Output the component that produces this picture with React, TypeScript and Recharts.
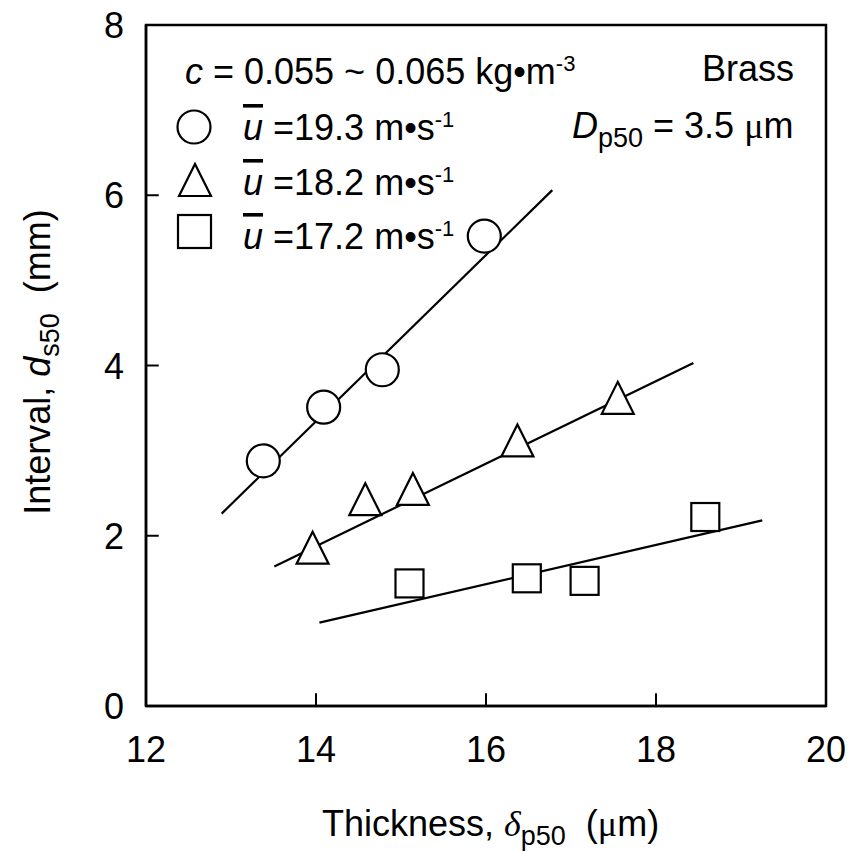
import React from "react"
import { ScatterChart, Scatter, XAxis, YAxis, ReferenceArea, ReferenceLine, Customized } from "recharts"

const circleX = [13.38, 14.09, 14.78, 15.98]
const circleY = [2.88, 3.51, 3.95, 5.52]
const triangleX = [13.96, 14.58, 15.14, 16.37, 17.55]
const triangleY = [1.86, 2.43, 2.55, 3.12, 3.62]
const squareX = [15.1, 16.48, 17.16, 18.58]
const squareY = [1.44, 1.5, 1.47, 2.22]

// fitted straight lines (end points)
const circleFitX = [12.89, 16.78]
const circleFitY = [2.26, 6.06]
const triangleFitX = [13.51, 18.44]
const triangleFitY = [1.64, 4.03]
const squareFitX = [14.04, 19.25]
const squareFitY = [0.98, 2.18]

const xTicks = [12, 14, 16, 18, 20]
const yTicks = [0, 2, 4, 6, 8]

const FONT = "'Liberation Sans', Arial, sans-serif"
const SERIF = "'Liberation Serif', 'Times New Roman', serif"

// inward tick length, in axis units (~13px)
const X_TICK_LEN = 0.15
const Y_TICK_LEN = 0.15

const toPoints = (xs: number[], ys: number[]) => xs.map((x, i) => ({ x, y: ys[i] }))

const CircleMark = (props: any) => {
	const { cx, cy } = props
	return <circle cx={cx} cy={cy} r={16.5} fill="#fff" stroke="#000" strokeWidth={2.2} />
}

const TriangleMark = (props: any) => {
	const { cx, cy } = props
	const w = 32
	const h = 32
	return (
		<polygon
			points={`${cx},${cy - h / 2} ${cx + w / 2},${cy + h / 2} ${cx - w / 2},${cy + h / 2}`}
			fill="#fff"
			stroke="#000"
			strokeWidth={2.2}
		/>
	)
}

const SquareMark = (props: any) => {
	const { cx, cy } = props
	const s = 28
	return <rect x={cx - s / 2} y={cy - s / 2} width={s} height={s} fill="#fff" stroke="#000" strokeWidth={2.2} />
}

const NoMark = () => <g />

const XTick = (props: any) => {
	const { x, y, payload } = props
	return (
		<text x={x} y={y + 56} textAnchor="middle" fontSize={36} fontFamily={FONT} fill="#000">
			{payload.value}
		</text>
	)
}

const YTick = (props: any) => {
	const { x, y, payload } = props
	return (
		<text x={x - 22} y={y + 13} textAnchor="end" fontSize={36} fontFamily={FONT} fill="#000">
			{payload.value}
		</text>
	)
}

const Annotations = () => {
	const t = { fontFamily: FONT, fontSize: 36, fill: "#000" }
	const sup = { fontSize: 22 }
	const sub = { fontSize: 27 }
	const speedRow = (label: string, baseline: number) => (
		<text x={243} y={baseline} {...t}>
			<tspan fontStyle="italic" style={{ textDecoration: "overline" }}>
				u
			</tspan>
			<tspan> ={label} m•s</tspan>
			<tspan {...sup} dy={-13}>
				-1
			</tspan>
		</text>
	)
	return (
		<g>
			{/* condition text */}
			<text x={185} y={84} {...t}>
				<tspan fontStyle="italic">c</tspan>
				<tspan> = 0.055 ~ 0.065 kg•m</tspan>
				<tspan {...sup} dy={-13}>
					-3
				</tspan>
			</text>
			<text x={794} y={81} textAnchor="end" {...t}>
				Brass
			</text>
			<text x={572} y={138} {...t}>
				<tspan fontStyle="italic">D</tspan>
				<tspan {...sub} dy={9}>
					p50
				</tspan>
				<tspan dy={-9}> = 3.5 </tspan>
				<tspan fontFamily={SERIF}>μ</tspan>
				<tspan>m</tspan>
			</text>

			{/* legend */}
			<CircleMark cx={194} cy={127} />
			{speedRow("19.3", 140)}
			<TriangleMark cx={195} cy={180} />
			{speedRow("18.2", 195)}
			<rect x={178} y={215} width={33} height={33} fill="#fff" stroke="#000" strokeWidth={2.2} />
			{speedRow("17.2", 249)}

			{/* axis titles */}
			<text x={322} y={836} {...t}>
				<tspan>Thickness, </tspan>
				<tspan fontStyle="italic" fontFamily={SERIF}>
					δ
				</tspan>
				<tspan {...sub} dy={9}>
					p50
				</tspan>
				<tspan dy={-9}>{"\u00a0\u00a0("}</tspan>
				<tspan fontFamily={SERIF}>μ</tspan>
				<tspan>m)</tspan>
			</text>
			<text x={50} y={362} textAnchor="middle" transform="rotate(-90, 50, 362)" {...t}>
				<tspan>Interval, </tspan>
				<tspan fontStyle="italic">d</tspan>
				<tspan {...sub} dy={9}>
					s50
				</tspan>
				<tspan dy={-9}>{"\u00a0\u00a0(mm)"}</tspan>
			</text>
		</g>
	)
}

const App: React.FC = () => {
	return (
		<div style={{ position: "absolute", left: 0, top: 0, width: 850, height: 852, background: "#fff" }}>
			<ScatterChart width={850} height={852} margin={{ top: 25, right: 24, left: 0, bottom: 0 }}>
				<XAxis
					dataKey="x"
					type="number"
					domain={[12, 20]}
					ticks={xTicks}
					allowDataOverflow
					height={146}
					tickSize={0}
					tickMargin={0}
					tick={<XTick />}
					axisLine={{ stroke: "#000", strokeWidth: 2.5 }}
					tickLine={false}
				/>
				<YAxis
					dataKey="y"
					type="number"
					domain={[0, 8]}
					ticks={yTicks}
					allowDataOverflow
					width={146}
					tickSize={0}
					tickMargin={0}
					tick={<YTick />}
					axisLine={{ stroke: "#000", strokeWidth: 2.5 }}
					tickLine={false}
				/>
				{/* plot frame */}
				<ReferenceArea x1={12} x2={20} y1={0} y2={8} fill="none" stroke="#000" strokeWidth={2.5} ifOverflow="visible" />
				{/* inward tick marks on the bottom and left axes */}
				{xTicks.slice(1, -1).map((v) => (
					<ReferenceLine
						key={`xt${v}`}
						segment={[
							{ x: v, y: 0 },
							{ x: v, y: Y_TICK_LEN },
						]}
						stroke="#000"
						strokeWidth={2}
						ifOverflow="visible"
					/>
				))}
				{yTicks.slice(1, -1).map((v) => (
					<ReferenceLine
						key={`yt${v}`}
						segment={[
							{ x: 12, y: v },
							{ x: 12 + X_TICK_LEN, y: v },
						]}
						stroke="#000"
						strokeWidth={2}
						ifOverflow="visible"
					/>
				))}
				{/* fitted lines first so markers sit on top */}
				<Scatter
					data={toPoints(circleFitX, circleFitY)}
					line={{ stroke: "#000", strokeWidth: 2.2 }}
					shape={<NoMark />}
					isAnimationActive={false}
				/>
				<Scatter
					data={toPoints(triangleFitX, triangleFitY)}
					line={{ stroke: "#000", strokeWidth: 2.2 }}
					shape={<NoMark />}
					isAnimationActive={false}
				/>
				<Scatter
					data={toPoints(squareFitX, squareFitY)}
					line={{ stroke: "#000", strokeWidth: 2.2 }}
					shape={<NoMark />}
					isAnimationActive={false}
				/>
				<Scatter data={toPoints(circleX, circleY)} shape={<CircleMark />} isAnimationActive={false} />
				<Scatter data={toPoints(triangleX, triangleY)} shape={<TriangleMark />} isAnimationActive={false} />
				<Scatter data={toPoints(squareX, squareY)} shape={<SquareMark />} isAnimationActive={false} />
				<Customized component={Annotations} />
			</ScatterChart>
		</div>
	)
}

export default App
